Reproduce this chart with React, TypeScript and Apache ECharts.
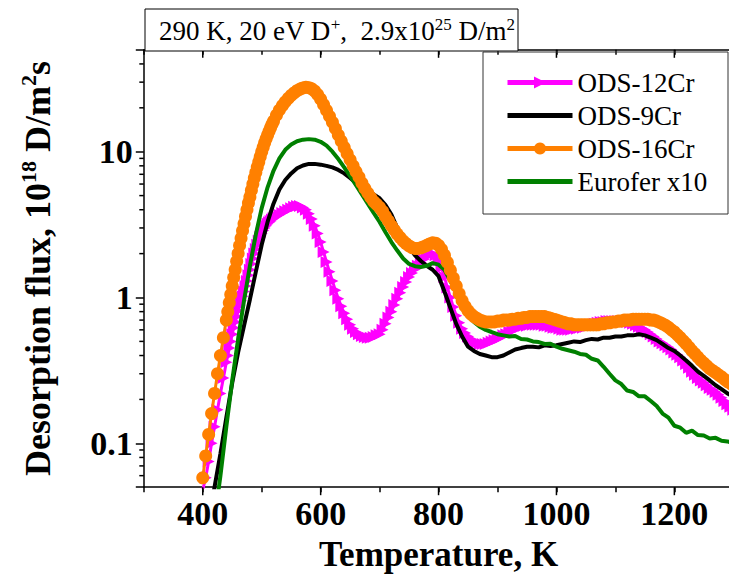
import React, { useEffect, useRef } from "react";
import * as echarts from "echarts";

const FONT = "'Liberation Serif', 'Times New Roman', serif";

// temperature grid (K) for the marker curves (finer on the steep rise)
const tempsM = [
  400, 405, 410, 415, 420, 425, 430, 435,
  440, 442.5, 445, 447.5, 450, 452.5, 455, 457.5, 460, 462.5,
  465, 467.5, 470, 472.5, 475, 477.5, 480, 482.5, 485, 487.5,
  490, 492.5, 495, 497.5, 500, 502.5, 505, 507.5, 510, 512.5,
  515, 517.5,
  520, 525, 530, 535, 540, 545,
  550, 555, 560, 565, 570, 575, 580, 585, 590, 595,
  600, 605, 610, 615, 620, 625, 630, 635, 640, 645,
  650, 655, 660, 665, 670, 675, 680, 685, 690, 695,
  700, 705, 710, 715, 720, 725, 730, 735, 740, 745,
  750, 755, 760, 765, 770, 775, 780, 785, 790, 795,
  800, 805, 810, 815, 820, 825, 830, 835, 840, 845,
  850, 855, 860, 865, 870, 875, 880, 885, 890, 895,
  900, 905, 910, 915, 920, 925, 930, 935, 940, 945,
  950, 955, 960, 965, 970, 975, 980, 985, 990, 995,
  1000, 1005, 1010, 1015, 1020, 1025, 1030, 1035, 1040, 1045,
  1050, 1055, 1060, 1065, 1070, 1075, 1080, 1085, 1090, 1095,
  1100, 1105, 1110, 1115, 1120, 1125, 1130, 1135, 1140, 1145,
  1150, 1155, 1160, 1165, 1170, 1175, 1180, 1185, 1190, 1195,
  1200, 1205, 1210, 1215, 1220, 1225, 1230, 1235, 1240, 1245,
  1250, 1255, 1260, 1265, 1270, 1275, 1280, 1285, 1290, 1295,
  1300,
];

const ods16 = [
  0.058, 0.082, 0.115, 0.16, 0.22, 0.3, 0.4, 0.53,
  0.7, 0.8, 0.92, 1.05, 1.2, 1.37, 1.55, 1.77, 2.0, 2.27,
  2.55, 2.87, 3.2, 3.6, 4.0, 4.45, 4.9, 5.45, 6.0, 6.6,
  7.2, 7.85, 8.5, 9.25, 10.0, 10.75, 11.5, 12.25, 13.0, 13.8,
  14.6, 15.4,
  16.2, 17.8, 19.3, 20.7, 22.0, 23.2,
  24.3, 25.3, 26.2, 26.9, 27.4, 27.7, 27.5, 27.0, 26.0, 24.6,
  22.9, 21.0, 19.2, 17.5, 15.9, 14.4, 13.0, 11.8, 10.7, 9.7,
  8.8, 8.0, 7.3, 6.7, 6.1, 5.6, 5.2, 4.85, 4.55, 4.35,
  4.15, 3.9, 3.6, 3.35, 3.1, 2.9, 2.72, 2.57, 2.44, 2.34,
  2.26, 2.2, 2.17, 2.17, 2.19, 2.23, 2.28, 2.33, 2.37, 2.36,
  2.28, 2.14, 1.95, 1.74, 1.54, 1.36, 1.2, 1.06, 0.95, 0.87,
  0.81, 0.77, 0.74, 0.72, 0.7, 0.69, 0.68, 0.68, 0.68, 0.68,
  0.69, 0.69, 0.7, 0.7, 0.7, 0.71, 0.71, 0.72, 0.72, 0.73,
  0.73, 0.74, 0.74, 0.74, 0.74, 0.74, 0.74, 0.73, 0.72, 0.71,
  0.7, 0.69, 0.68, 0.67, 0.66, 0.66, 0.65, 0.65, 0.65, 0.65,
  0.65, 0.65, 0.65, 0.65, 0.65, 0.66, 0.66, 0.67, 0.67, 0.68,
  0.68, 0.69, 0.69, 0.7, 0.7, 0.7, 0.71, 0.71, 0.71, 0.71,
  0.71, 0.71, 0.7, 0.7, 0.69, 0.675, 0.66, 0.645, 0.625, 0.6,
  0.58, 0.555, 0.53, 0.505, 0.48, 0.455, 0.43, 0.41, 0.39, 0.37,
  0.355, 0.34, 0.325, 0.315, 0.305, 0.295, 0.285, 0.275, 0.265, 0.258,
  0.25,
];

const ods12 = [
  0.048, 0.058, 0.075, 0.1, 0.13, 0.17, 0.22, 0.28,
  0.36, 0.4, 0.45, 0.5, 0.56, 0.62, 0.68, 0.74, 0.81, 0.88,
  0.95, 1.02, 1.1, 1.2, 1.3, 1.42, 1.55, 1.7, 1.85, 2.0,
  2.15, 2.3, 2.45, 2.6, 2.75, 2.88, 3.0, 3.1, 3.2, 3.28,
  3.35, 3.43,
  3.5, 3.6, 3.7, 3.8, 3.9, 4.0,
  4.1, 4.2, 4.25, 4.25, 4.15, 4.0, 3.75, 3.45, 3.1, 2.75,
  2.4, 2.05, 1.75, 1.5, 1.3, 1.12, 0.98, 0.87, 0.78, 0.71,
  0.65, 0.61, 0.58, 0.56, 0.545, 0.535, 0.53, 0.53, 0.535, 0.55,
  0.56, 0.6, 0.66, 0.73, 0.8, 0.89, 0.98, 1.08, 1.18, 1.28,
  1.38, 1.47, 1.56, 1.65, 1.74, 1.83, 1.91, 1.98, 2.0, 1.95,
  1.8, 1.6, 1.38, 1.17, 1.0, 0.86, 0.75, 0.67, 0.61, 0.57,
  0.54, 0.52, 0.5, 0.49, 0.48, 0.48, 0.48, 0.49, 0.5, 0.51,
  0.52, 0.53, 0.55, 0.56, 0.58, 0.59, 0.61, 0.62, 0.63, 0.64,
  0.64, 0.65, 0.65, 0.65, 0.65, 0.65, 0.64, 0.64, 0.63, 0.62,
  0.62, 0.61, 0.6, 0.6, 0.6, 0.6, 0.61, 0.61, 0.62, 0.62,
  0.63, 0.64, 0.65, 0.66, 0.67, 0.68, 0.68, 0.69, 0.69, 0.69,
  0.69, 0.69, 0.69, 0.69, 0.68, 0.67, 0.66, 0.645, 0.63, 0.615,
  0.6, 0.58, 0.56, 0.54, 0.52, 0.5, 0.485, 0.47, 0.455, 0.44,
  0.42, 0.405, 0.39, 0.37, 0.35, 0.33, 0.31, 0.295, 0.28, 0.27,
  0.26, 0.25, 0.24, 0.233, 0.225, 0.215, 0.205, 0.195, 0.185, 0.178,
  0.17,
];

// temperature grid (K) for the plain line curves
const tempsL = [
  410, 420, 430, 440, 450, 460, 470, 480, 490, 500,
  510, 520, 530, 540, 550, 560, 570, 580, 590, 600,
  610, 620, 630, 640, 650, 660, 670, 680, 690, 700,
  710, 720, 730, 740, 750, 760, 770, 780, 790, 800,
  810, 820, 830, 840, 850, 860, 870, 880, 890, 900,
  910, 920, 930, 940, 950, 960, 970, 980, 990, 1000,
  1010, 1020, 1030, 1040, 1050, 1060, 1070, 1080, 1090, 1100,
  1110, 1120, 1130, 1140, 1150, 1160, 1170, 1180, 1190, 1200,
  1210, 1220, 1230, 1240, 1250, 1260, 1270, 1280, 1290, 1300,
];

const ods9 = [
  0.03, 0.05, 0.085, 0.15, 0.26, 0.42, 0.64, 0.97, 1.5, 2.3,
  3.3, 4.4, 5.5, 6.4, 7.1, 7.7, 8.05, 8.25, 8.25, 8.15,
  8.0, 7.8, 7.5, 7.1, 6.6, 6.1, 5.7, 5.35, 5.1, 4.8,
  4.3, 3.7, 3.0, 2.55, 2.2, 1.95, 1.78, 1.65, 1.55, 1.4,
  1.1, 0.85, 0.66, 0.54, 0.46, 0.43, 0.41, 0.4, 0.39, 0.39,
  0.4, 0.42, 0.44, 0.45, 0.46, 0.46, 0.455, 0.47, 0.465, 0.47,
  0.48, 0.49, 0.5, 0.495, 0.51, 0.52, 0.515, 0.53, 0.53, 0.54,
  0.54, 0.55, 0.55, 0.56, 0.55, 0.53, 0.51, 0.48, 0.45, 0.43,
  0.4, 0.37, 0.34, 0.31, 0.29, 0.27, 0.25, 0.235, 0.22, 0.21,
];

const eurofer = [
  0.02, 0.03, 0.06, 0.13, 0.27, 0.52, 0.95, 1.65, 2.7, 4.1,
  5.7, 7.4, 9.0, 10.3, 11.2, 11.8, 12.1, 12.2, 12.1, 11.7,
  11.0, 10.0, 8.9, 7.8, 6.8, 5.9, 5.1, 4.4, 3.8, 3.3,
  2.8, 2.4, 2.1, 1.85, 1.7, 1.64, 1.62, 1.65, 1.72, 1.68,
  1.55, 1.3, 1.08, 0.9, 0.76, 0.68, 0.63, 0.6, 0.58, 0.56,
  0.55, 0.54, 0.545, 0.52, 0.515, 0.5, 0.495, 0.48, 0.482, 0.46,
  0.445, 0.435, 0.425, 0.41, 0.405, 0.38, 0.37, 0.335, 0.3, 0.27,
  0.255, 0.23, 0.225, 0.21, 0.21, 0.195, 0.18, 0.16, 0.15, 0.132,
  0.128, 0.118, 0.122, 0.114, 0.113, 0.108, 0.109, 0.104, 0.103, 0.1,
];

const legendNames = ["ODS-12Cr", "ODS-9Cr", "ODS-16Cr", "Eurofer x10"];
const xMajorTicks = [400, 600, 800, 1000, 1200];
const yMinorTicks = [
  0.06, 0.07, 0.08, 0.09, 0.2, 0.3, 0.4, 0.5, 0.6, 0.7, 0.8, 0.9,
  2, 3, 4, 5, 6, 7, 8, 9, 20, 30, 40,
];
const yTickLabels: Record<string, string> = { "-1": "0.1", "0": "1", "1": "10" };

const pair = (xs: number[], ys: number[]) => xs.map((x, i) => [x, ys[i]]);

const X_MIN = 300;
const X_MAX = 1300;
const Y_MIN = 0.05;
const Y_MAX = 50;

const BAR_ICON = "path://M0,0H65V5H0Z";

function buildOption(): any {
  const axisLineStyle = { color: "#000", width: 1.5 };
  return {
    animation: false,
    backgroundColor: "#fff",
    textStyle: { fontFamily: FONT },
    grid: {
      left: 143.8,
      top: 49.8,
      right: 6.7,
      bottom: 89.8,
      containLabel: false,
      outerBoundsMode: "none",
    },
    legend: {
      data: [
        { name: legendNames[0] },
        { name: legendNames[1], icon: BAR_ICON, itemStyle: { color: "#000" } },
        { name: legendNames[2] },
        { name: legendNames[3], icon: BAR_ICON, itemStyle: { color: "#008000" } },
      ],
      orient: "vertical",
      left: 505,
      top: 69,
      padding: 0,
      itemWidth: 65,
      itemHeight: 15,
      itemGap: 6,
      lineStyle: { width: 5 },
      textStyle: { fontFamily: FONT, fontSize: 27, color: "#000" },
    },
    xAxis: [
      {
        type: "value",
        min: X_MIN,
        max: X_MAX,
        interval: 100,
        position: "bottom",
        axisLine: { show: true, onZero: false, lineStyle: axisLineStyle },
        axisTick: { show: true, length: 5, lineStyle: axisLineStyle },
        splitLine: { show: false },
        axisLabel: {
          formatter: (v: number) => (v % 200 === 0 ? String(v) : ""),
          fontFamily: FONT,
          fontSize: 34,
          fontWeight: "bold",
          color: "#000",
          margin: 9,
        },
        name: "Temperature, K",
        nameLocation: "middle",
        nameGap: 50,
        nameTextStyle: { fontFamily: FONT, fontSize: 35, fontWeight: "bold", color: "#000" },
      },
      {
        type: "value",
        min: X_MIN,
        max: X_MAX,
        interval: 100,
        position: "top",
        axisLine: { show: true, onZero: false, lineStyle: axisLineStyle },
        axisTick: { show: true, inside: true, length: 5, lineStyle: axisLineStyle },
        splitLine: { show: false },
        axisLabel: { show: false },
      },
    ],
    yAxis: [
      {
        type: "log",
        logBase: 10,
        min: Y_MIN,
        max: Y_MAX,
        axisLine: { show: true, onZero: false, lineStyle: axisLineStyle },
        axisTick: { show: true, length: 8, lineStyle: axisLineStyle },
        splitLine: { show: false },
        minorTick: { show: false },
        axisLabel: {
          formatter: (v: number) => {
            const l = Math.log10(v);
            const k = Math.round(l);
            if (Math.abs(l - k) > 1e-6) return "";
            return yTickLabels[String(k)] ?? "";
          },
          fontFamily: FONT,
          fontSize: 34,
          fontWeight: "bold",
          color: "#000",
          margin: 11,
        },
        name: "{a|Desorption flux, 10}{s|18}{a| D/m}{s|2}{a|s}",
        nameLocation: "middle",
        nameGap: 86,
        nameTextStyle: {
          fontFamily: FONT,
          fontSize: 36,
          fontWeight: "bold",
          color: "#000",
          rich: {
            a: { fontFamily: FONT, fontSize: 36, fontWeight: "bold", color: "#000", lineHeight: 40 },
            s: {
              fontFamily: FONT,
              fontSize: 22,
              fontWeight: "bold",
              color: "#000",
              lineHeight: 22,
              verticalAlign: "top",
            },
          },
        },
      },
    ],
    graphic: [
      {
        type: "rect",
        shape: { x: 145, y: 9, width: 373, height: 42 },
        style: { fill: "#fff", stroke: "#000", lineWidth: 1 },
        z: 10,
      },
      {
        type: "text",
        x: 159,
        y: 31,
        z: 11,
        style: {
          text: "{n|290 K, 20 eV D}{s|+}{n|,  2.9x10}{s|25}{n| D/m}{s|2}",
          verticalAlign: "middle",
          fontFamily: FONT,
          fontSize: 27,
          fill: "#000",
          rich: {
            n: { fontFamily: FONT, fontSize: 27, fill: "#000", lineHeight: 30 },
            s: { fontFamily: FONT, fontSize: 17, fill: "#000", lineHeight: 17, verticalAlign: "top" },
          },
        },
      },
      {
        type: "rect",
        shape: { x: 483, y: 52, width: 245, height: 162 },
        style: { fill: "none", stroke: "#333", lineWidth: 1 },
        z: 10,
      },
    ],
    series: [
      {
        type: "line",
        name: "ODS-12Cr",
        data: pair(tempsM, ods12),
        symbol: "triangle",
        symbolRotate: -90,
        symbolSize: 12,
        showAllSymbol: true,
        lineStyle: { color: "#FF00FF", width: 3 },
        itemStyle: { color: "#FF00FF", borderWidth: 0 },
        z: 2,
      },
      {
        type: "line",
        name: "ODS-9Cr",
        data: pair(tempsL, ods9),
        symbol: "none",
        lineStyle: { color: "#000", width: 4 },
        itemStyle: { color: "#000" },
        z: 3,
      },
      {
        type: "line",
        name: "Eurofer x10",
        data: pair(tempsL, eurofer),
        symbol: "none",
        lineStyle: { color: "#008000", width: 4 },
        itemStyle: { color: "#008000" },
        z: 4,
      },
      {
        type: "line",
        name: "ODS-16Cr",
        data: pair(tempsM, ods16),
        symbol: "circle",
        symbolSize: 13,
        showAllSymbol: true,
        lineStyle: { color: "#FF8000", width: 3 },
        itemStyle: { color: "#FF8000", borderWidth: 0 },
        z: 5,
      },
      {
        type: "custom",
        name: "xticks",
        silent: true,
        clip: false,
        data: xMajorTicks.map((v) => [v, Y_MIN]),
        renderItem: (_p: any, api: any) => {
          const b = api.coord([api.value(0), Y_MIN]);
          const t = api.coord([api.value(0), Y_MAX]);
          const st = { stroke: "#000", lineWidth: 1.5 };
          return {
            type: "group",
            children: [
              { type: "line", shape: { x1: b[0], y1: b[1], x2: b[0], y2: b[1] + 8 }, style: st },
              { type: "line", shape: { x1: t[0], y1: t[1], x2: t[0], y2: t[1] + 8 }, style: st },
            ],
          };
        },
        z: 6,
      },
      {
        type: "custom",
        name: "yticks",
        silent: true,
        clip: false,
        data: yMinorTicks.map((v) => [X_MIN, v]),
        renderItem: (_p: any, api: any) => {
          const p = api.coord([X_MIN, api.value(1)]);
          return {
            type: "line",
            shape: { x1: p[0] - 4.5, y1: p[1], x2: p[0], y2: p[1] },
            style: { stroke: "#000", lineWidth: 1.5 },
          };
        },
        z: 6,
      },
    ],
  };
}

export default function App() {
  const ref = useRef<HTMLDivElement>(null);
  useEffect(() => {
    if (!ref.current) return;
    const chart = echarts.init(ref.current, null, { renderer: "svg" });
    chart.setOption(buildOption());
    return () => chart.dispose();
  }, []);
  return (
    <div
      style={{
        position: "fixed",
        left: 0,
        top: 0,
        width: 729,
        height: 577,
        overflow: "hidden",
        background: "#fff",
      }}
    >
      <div ref={ref} style={{ width: 740, height: 577 }} />
    </div>
  );
}
